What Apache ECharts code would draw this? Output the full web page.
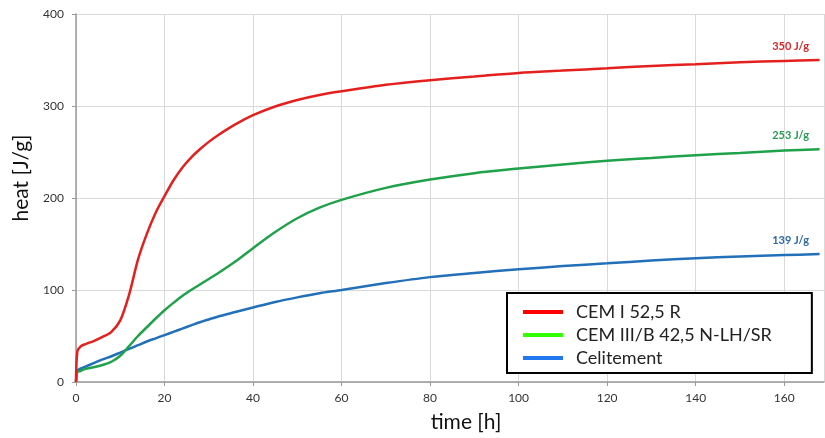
<!DOCTYPE html>
<html>
<head>
<meta charset="utf-8">
<script src="https://cdn.jsdelivr.net/npm/echarts@6/dist/echarts.min.js"></script>
<style>
html,body{margin:0;padding:0;background:#fff;}
#chart{width:825px;height:438px;}
</style>
</head>
<body>
<div id="chart"></div>
<script>
const seriesNames = ['CEM I 52,5 R', 'CEM III/B 42,5 N-LH/SR', 'Celitement'];
const timeHours = [0, 0.3, 1, 2, 4, 6, 8, 10, 12, 14, 16, 18, 20, 22, 24, 26, 28, 30, 32, 36, 40, 45, 50, 55, 60, 70, 80, 90, 100, 110, 120, 130, 140, 150, 160, 168];
const cemI =       [0, 33, 38.5, 41, 44.5, 49, 54.5, 67, 95, 133, 161, 184, 202, 219, 233, 244, 253, 261, 268, 280, 290, 299.5, 306.5, 312, 316, 323, 328, 332, 336, 338.5, 341, 343.5, 345.5, 347.5, 349, 350];
const cemIII =     [0, 11, 12, 14, 16, 18.5, 22, 28.5, 39, 50, 59.5, 69, 78, 86, 93.5, 100, 106, 112, 118, 131, 145.5, 163, 178, 189.5, 198, 211, 220, 227, 232, 236.5, 240.5, 243.5, 246.5, 249, 251.5, 253];
const celitement = [0, 12, 14.5, 16.5, 20.5, 24.5, 28, 32, 36, 40, 44, 47.5, 51, 54.5, 58, 61.5, 65, 68, 71, 76, 81, 87, 92, 96.5, 100, 107.5, 114, 118.5, 122.5, 126, 129, 132, 134.5, 136.5, 138, 139];
const xTicks = [0, 20, 40, 60, 80, 100, 120, 140, 160];
const yTicks = [0, 100, 200, 300, 400];

const lineColors = ['#e4201e', '#1fa24a', '#2270b8'];
const labelColors = ['#d9262a', '#2a9a55', '#2a6aa8'];
const legendColors = ['#ff0000', '#33ff00', '#2277ee'];
const FONT = 'Lato, "Open Sans", sans-serif';

const allValues = [cemI, cemIII, celitement];
const series = allValues.map((vals, i) => {
  const data = timeHours.map((t, k) => [t, vals[k]]);
  const last = data[data.length - 1];
  return {
    name: seriesNames[i],
    type: 'line',
    data: data,
    symbol: 'none',
    smooth: 0.3,
    lineStyle: { color: lineColors[i], width: 2.5 },
    itemStyle: { color: lineColors[i] },
    z: 3 - i,
    markPoint: {
      symbol: 'circle',
      symbolSize: 0,
      silent: true,
      data: [{ coord: last }],
      label: {
        show: true,
        position: 'top',
        distance: 8,
        offset: [-29, 0],
        formatter: last[1] + ' J/g',
        color: labelColors[i],
        fontSize: 11,
        fontWeight: 'bold',
        fontFamily: FONT
      }
    }
  };
});

const chart = echarts.init(document.getElementById('chart'), null, { renderer: 'canvas' });
chart.setOption({
  animation: false,
  backgroundColor: '#fff',
  grid: { left: 76, right: 1, top: 14, bottom: 56, containLabel: false },
  xAxis: {
    type: 'value',
    min: xTicks[0],
    max: 169,
    interval: xTicks[1] - xTicks[0],
    name: 'time [h]',
    nameLocation: 'middle',
    nameGap: 30,
    nameTextStyle: { fontSize: 21, color: '#111', fontFamily: FONT, padding: [0, 0, 0, 32] },
    axisLine: { show: true, lineStyle: { color: '#999', width: 1.5 } },
    axisTick: { show: true, length: 4, lineStyle: { color: '#999' } },
    axisLabel: { margin: 10, fontSize: 12, color: '#333', fontFamily: FONT, showMaxLabel: false,
      formatter: v => (xTicks.indexOf(v) >= 0 ? String(v) : '') },
    splitLine: { show: true, lineStyle: { color: '#d9d9d9', width: 1 } }
  },
  yAxis: {
    type: 'value',
    min: yTicks[0],
    max: yTicks[yTicks.length - 1],
    interval: yTicks[1] - yTicks[0],
    name: 'heat [J/g]',
    nameLocation: 'middle',
    nameRotate: 90,
    nameGap: 32,
    nameTextStyle: { fontSize: 21, color: '#111', fontFamily: FONT, padding: [0, 0, 0, 40] },
    axisLine: { show: true, lineStyle: { color: '#999', width: 1.5 } },
    axisTick: { show: true, length: 4, lineStyle: { color: '#999' } },
    axisLabel: { margin: 12, fontSize: 12, color: '#333', fontFamily: FONT },
    splitLine: { show: true, lineStyle: { color: '#d9d9d9', width: 1 } }
  },
  legend: {
    orient: 'vertical',
    left: 507,
    top: 293,
    backgroundColor: '#fff',
    borderColor: '#000',
    borderWidth: 2,
    borderRadius: 0,
    padding: [9, 40, 5, 16],
    itemWidth: 40,
    itemHeight: 4,
    itemGap: 3,
    icon: 'rect',
    textStyle: { fontSize: 18, color: '#222', fontFamily: FONT, lineHeight: 20, padding: [0, 0, 0, 8] },
    data: seriesNames.map((n, i) => ({ name: n, itemStyle: { color: legendColors[i] } }))
  },
  series: series
});
</script>
</body>
</html>
